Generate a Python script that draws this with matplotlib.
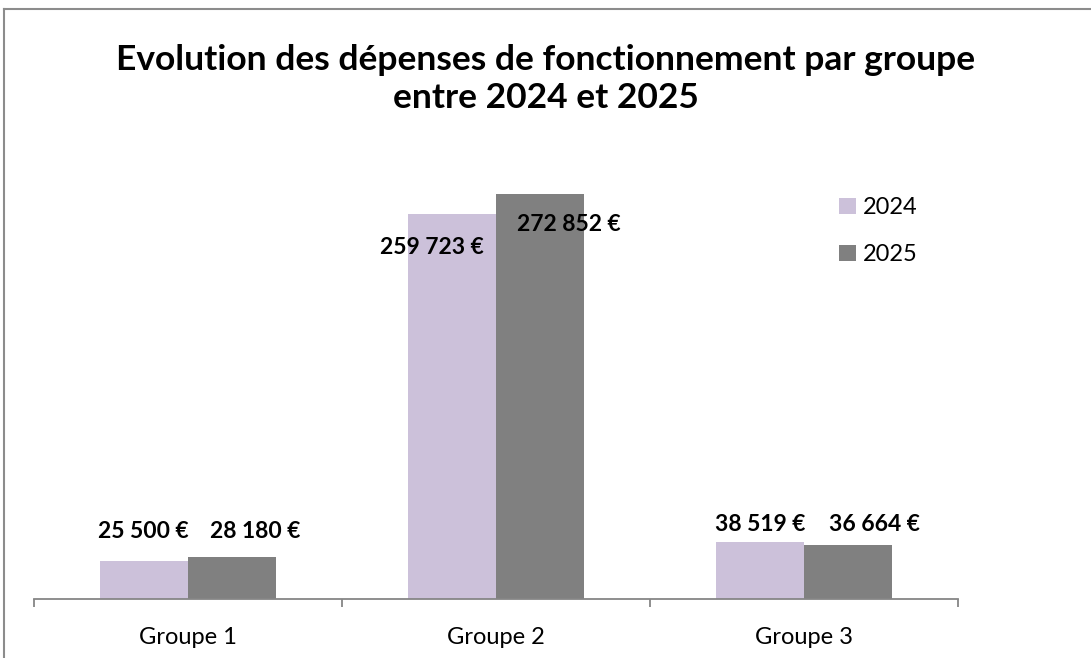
import numpy as np
import matplotlib.pyplot as plt
from matplotlib.patches import Patch
from matplotlib.lines import Line2D

groupes = ['Groupe 1', 'Groupe 2', 'Groupe 3']
annees = ['2024', '2025']
depenses_2024 = [25500, 259723, 38519]
depenses_2025 = [28180, 272852, 36664]

couleurs = ['#CCC1DA', '#808080']
# decalage manuel des etiquettes (pixels), comme dans le classeur d'origine
decal_2024 = [(-1, 30), (-20, -34), (0, 17)]
decal_2025 = [(23, 26), (29, -30), (26, 20)]

plt.rcParams['font.family'] = ['Lato', 'DejaVu Sans']


def fmt_euro(v):
    return f"{v:,.0f} €".replace(',', ' ')


fig = plt.figure(figsize=(10.91, 6.58), dpi=100)
ax = fig.add_axes([34 / 1091, 1 - 599 / 658, 924 / 1091, 445 / 658])

x = np.arange(len(groupes))
w = 88 / 308
b1 = ax.bar(x - w / 2, depenses_2024, w, color=couleurs[0], label=annees[0])
b2 = ax.bar(x + w / 2, depenses_2025, w, color=couleurs[1], label=annees[1])

for bars, vals, decal in [(b1, depenses_2024, decal_2024), (b2, depenses_2025, decal_2025)]:
    for rect, v, (dx, dy) in zip(bars, vals, decal):
        ax.annotate(fmt_euro(v), (rect.get_x() + rect.get_width() / 2, v),
                    xytext=(dx, dy), textcoords='offset pixels',
                    ha='center', va='center', fontsize=16.5, fontweight='bold')

ax.set_xlim(-0.5, 2.5)
ax.set_ylim(0, 300000)
ax.set_yticks([])
for s in ['top', 'right', 'left']:
    ax.spines[s].set_visible(False)
ax.spines['bottom'].set_color('#868686')
ax.spines['bottom'].set_linewidth(1.3)
ax.set_xticks([-0.5, 0.5, 1.5, 2.5])
ax.set_xticklabels([])
ax.set_xticks(x, minor=True)
ax.set_xticklabels(groupes, minor=True, fontsize=17)
ax.tick_params(axis='x', which='major', length=6, width=1.3, color='#868686', direction='out')
ax.tick_params(axis='x', which='minor', length=0, pad=20)

fig.text(546 / 1091, 1 - 79 / 658,
         'Evolution des dépenses de fonctionnement par groupe\nentre 2024 et 2025',
         ha='center', va='center', fontsize=25.5, fontweight='bold', linespacing=1.25)

handles = [Patch(facecolor=c, edgecolor='none') for c in couleurs]
fig.legend(handles, annees, loc='upper left', bbox_to_anchor=(818 / 1091, 1 - 176 / 658),
           frameon=False, fontsize=17, handlelength=0.7, handleheight=0.7,
           handletextpad=0.3, labelspacing=1.1)

# cadre du graphique (seuls les bords gauche et haut sont visibles)
fig.add_artist(Line2D([4 / 1091, 4 / 1091], [0, 1 - 9 / 658], transform=fig.transFigure,
                      color='#8c8c8c', lw=1.5))
fig.add_artist(Line2D([4 / 1091, 1], [1 - 9 / 658, 1 - 9 / 658], transform=fig.transFigure,
                      color='#8c8c8c', lw=1.5))

fig.savefig('out.png', dpi=100)
